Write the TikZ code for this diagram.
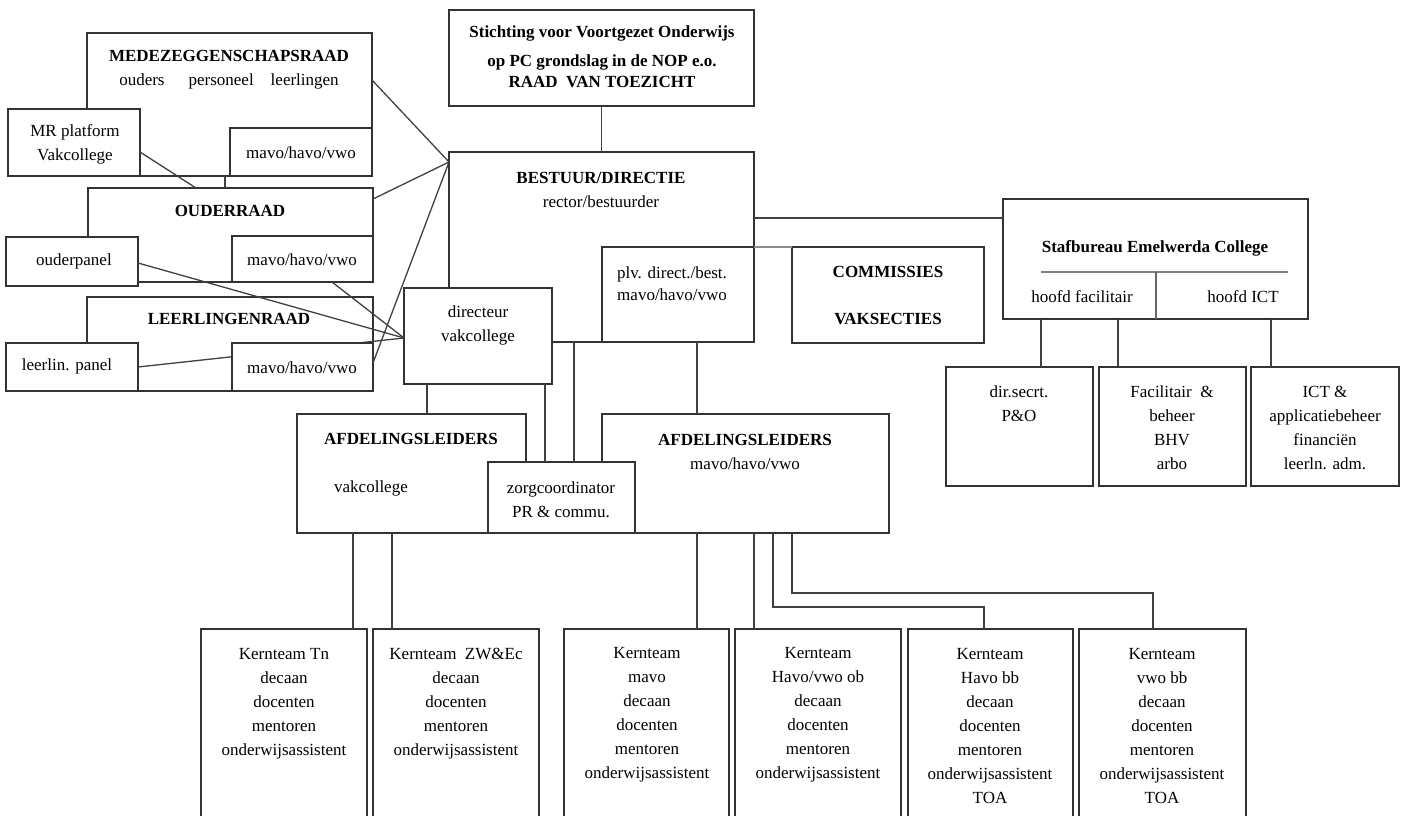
\documentclass[tikz,border=0pt]{standalone}
\usepackage{fontspec}
\setmainfont{Liberation Serif}

\begin{document}
\begin{tikzpicture}[x=1pt, y=-1pt,
    box/.style={draw=black!80, line width=1.3pt, fill=white, inner sep=0pt, outer sep=0pt},
    lbl/.style={align=center, inner sep=0pt, font=\fontsize{17}{24}\selectfont},
    lnk/.style={draw=black!75, line width=1.3pt}]

  \useasboundingbox (0,0) rectangle (1405,816);
  \clip (0,0) rectangle (1405,816);

  %medezeggenschapsraad
  \foreach \name/\xa/\ya/\xb/\yb in {mr/87/33/372/176, mrplat/8/109/140/176, mrmavo/230/128/372/176}{
      \node[box, minimum width={(\xb-\xa)*1pt}, minimum height={(\yb-\ya)*1pt}] (\name) at ({(\xa+\xb)/2},{(\ya+\yb)/2}) {};
  }

  %ouderraad en leerlingenraad
  \foreach \name/\xa/\ya/\xb/\yb in {or/88/188/373/282, op/6/237/138/286, ormavo/232/236/373/282, lr/87/297/373/391, lp/6/343/138/391}{
      \node[box, minimum width={(\xb-\xa)*1pt}, minimum height={(\yb-\ya)*1pt}] (\name) at ({(\xa+\xb)/2},{(\ya+\yb)/2}) {};
  }
  \draw[lnk] ([yshift=-43pt]mrplat.north east) -- ([xshift=108pt]or.north west);

  %bestuur
  \foreach \name/\xa/\ya/\xb/\yb in {st/449/10/754/106, be/449/152/754/342, plv/602/247/754/342, com/792/247/984/343, dir/404/288/552/384}{
      \node[box, minimum width={(\xb-\xa)*1pt}, minimum height={(\yb-\ya)*1pt}] (\name) at ({(\xa+\xb)/2},{(\ya+\yb)/2}) {};
  }
  \coordinate (c1) at ([yshift=-10pt]be.north west);
  \coordinate (c2) at ([yshift=-50pt]dir.north west);

  \draw[lnk] ([yshift=-26pt]op.north east) -- (c2);
  \draw[lnk] ([xshift=100pt]ormavo.south west) -- (c2);
  \draw[lnk] ([yshift=-24pt]lp.north east) -- (c2);

  \node[box, minimum width=141pt, minimum height=48pt] (lrmavo) at (302.5,367) {};

  \draw[lnk] ([yshift=-47pt]mr.north east) -- (c1);
  \draw[lnk] ([yshift=-11pt]or.north east) -- (c1);
  \draw[lnk] ([yshift=-20pt]lrmavo.north east) -- (c1);
  \draw[lnk] ([xshift=138pt]mr.south west) -- ([xshift=137pt]or.north west);

  \draw[lnk] (st.south) -- (be.north);
  \draw[lnk, draw=black!45] (com.north west -| be.east) -- (com.north west);

  %stafbureau
  \foreach \name/\xa/\ya/\xb/\yb in {staf/1003/199/1308/319, ds/946/367/1093/486, fac/1099/367/1246/486, ict/1251/367/1399/486}{
      \node[box, minimum width={(\xb-\xa)*1pt}, minimum height={(\yb-\ya)*1pt}] (\name) at ({(\xa+\xb)/2},{(\ya+\yb)/2}) {};
  }
  \draw[lnk] ([yshift=-66pt]be.north east) -- ([yshift=-19pt]staf.north west);
  \draw[lnk, draw=black!50, line width=2pt] ([xshift=38pt,yshift=47pt]staf.south west) -- ([xshift=285pt,yshift=47pt]staf.south west);
  \draw[lnk, draw=black!60] ([xshift=153pt,yshift=47pt]staf.south west) -- ([xshift=153pt]staf.south west);
  \draw[lnk] ([xshift=38pt]staf.south west) -- ([xshift=95pt]ds.north west);
  \draw[lnk] ([xshift=115pt]staf.south west) -- ([xshift=19pt]fac.north west);
  \draw[lnk] ([xshift=268pt]staf.south west) -- ([xshift=20pt]ict.north west);

  %afdelingsleiders
  \foreach \name/\xa/\ya/\xb/\yb in {afdl/297/414/526/533, afdr/602/414/889/533, zorg/488/462/635/533}{
      \node[box, minimum width={(\xb-\xa)*1pt}, minimum height={(\yb-\ya)*1pt}] (\name) at ({(\xa+\xb)/2},{(\ya+\yb)/2}) {};
  }
  \draw[lnk] ([xshift=23pt]dir.south west) -- ([xshift=130pt]afdl.north west);
  \draw[lnk] ([xshift=141pt]dir.south west) -- ([xshift=57pt]zorg.north west);
  \draw[lnk] ([xshift=125pt]be.south west) -- ([xshift=86pt]zorg.north west);
  \draw[lnk] ([xshift=95pt]plv.south west) -- ([xshift=95pt]afdr.north west);

  %kernteams
  \foreach \name/\xa/\xb in {k1/201/367, k2/373/539, k3/564/729, k4/735/901, k5/908/1073, k6/1079/1246}{
      \node[box, minimum width={(\xb-\xa)*1pt}, minimum height=220pt] (\name) at ({(\xa+\xb)/2},739) {};
  }
  \draw[lnk] ([xshift=56pt]afdl.south west) -- ([xshift=152pt]k1.north west);
  \draw[lnk] ([xshift=95pt]afdl.south west) -- ([xshift=19pt]k2.north west);
  \draw[lnk] ([xshift=95pt]afdr.south west) -- ([xshift=133pt]k3.north west);
  \draw[lnk] ([xshift=152pt]afdr.south west) -- ([xshift=19pt]k4.north west);
  \draw[lnk] ([xshift=171pt]afdr.south west) |- ([xshift=76pt,yshift=22pt]k5.north west) -- ([xshift=76pt]k5.north west);
  \draw[lnk] ([xshift=190pt]afdr.south west) |- ([xshift=74pt,yshift=36pt]k6.north west) -- ([xshift=74pt]k6.north west);

  %texts
  \node[lbl] (mrT) at (229,69.5) {{\bfseries MEDEZEGGENSCHAPSRAAD}\\ouders\hspace{24pt}personeel\hspace{17pt}leerlingen};
  \node[lbl] (mrplatT) at (75,144.5) {MR platform\\Vakcollege};
  \node[lbl] (mrmavoT) at (301,153) {mavo/havo/vwo};
  \node[lbl, font=\fontsize{17}{24}\selectfont\bfseries] (orT) at (230,211) {OUDERRAAD};
  \node[lbl] (opT) at (74,261) {ouderpanel};
  \node[lbl] (ormavoT) at (302,260) {mavo/havo/vwo};
  \node[lbl, font=\fontsize{17}{24}\selectfont\bfseries] (lrT) at (229,319) {LEERLINGENRAAD};
  \node[lbl] (lpT) at (67,366) {leerlin. panel};
  \node[lbl] (lrmavoT) at (302,368) {mavo/havo/vwo};

  \node[lbl, font=\fontsize{17}{21}\selectfont\bfseries] (stT) at (602,57) {Stichting voor Voortgezet Onderwijs\\[8pt]op PC grondslag in de NOP e.o.\\RAAD\ \ VAN TOEZICHT};
  \node[lbl] (beT) at (601,189.5) {{\bfseries BESTUUR/DIRECTIE}\\rector/bestuurder};
  \node[lbl, font=\fontsize{17}{22}\selectfont] (plvT) at (672,284) {plv. direct./best.\\mavo/havo/vwo};
  \node[lbl, font=\fontsize{17}{24}\selectfont\bfseries] (comT) at (888,295.5) {COMMISSIES\\[23pt]VAKSECTIES};
  \node[lbl] (dirT) at (478,325.5) {directeur\\vakcollege};

  \node[lbl, font=\fontsize{17}{24}\selectfont\bfseries] (stafT) at (1155,248) {Stafbureau Emelwerda College};
  \node[lbl] (hfT) at (1082,297) {hoofd facilitair};
  \node[lbl] (hiT) at (1243,297) {hoofd ICT};
  \node[lbl] (dsT) at (1019,403.5) {dir.secrt.\\P\&O};
  \node[lbl] (facT) at (1172,427.5) {Facilitair\ \ \&\\beheer\\BHV\\arbo};
  \node[lbl] (ictT) at (1325,427.5) {ICT \&\\applicatiebeheer\\financiën\\leerln. adm.};

  \node[lbl, font=\fontsize{17}{24}\selectfont\bfseries] (afdlT) at (411,439) {AFDELINGSLEIDERS};
  \node[lbl] (afdlS) at (371,488) {vakcollege};
  \node[lbl] (zorgT) at (561,500) {zorgcoordinator\\PR \& commu.};
  \node[lbl] (afdrT) at (745,452) {{\bfseries AFDELINGSLEIDERS}\\mavo/havo/vwo};

  \foreach \name/\xc/\yc/\txt in {k1T/284/703.5/{Kernteam Tn\\decaan\\docenten\\mentoren\\onderwijsassistent},
                                  k2T/456/703.5/{Kernteam\ \ ZW\&Ec\\decaan\\docenten\\mentoren\\onderwijsassistent},
                                  k3T/647/715/{Kernteam\\mavo\\decaan\\docenten\\mentoren\\onderwijsassistent},
                                  k4T/818/715/{Kernteam\\Havo/vwo ob\\decaan\\docenten\\mentoren\\onderwijsassistent},
                                  k5T/990/726.5/{Kernteam\\Havo bb\\decaan\\docenten\\mentoren\\onderwijsassistent\\TOA},
                                  k6T/1162/726.5/{Kernteam\\vwo bb\\decaan\\docenten\\mentoren\\onderwijsassistent\\TOA}}{
      \node[lbl] (\name) at (\xc,\yc) {\txt};
  }

\end{tikzpicture}
\end{document}
